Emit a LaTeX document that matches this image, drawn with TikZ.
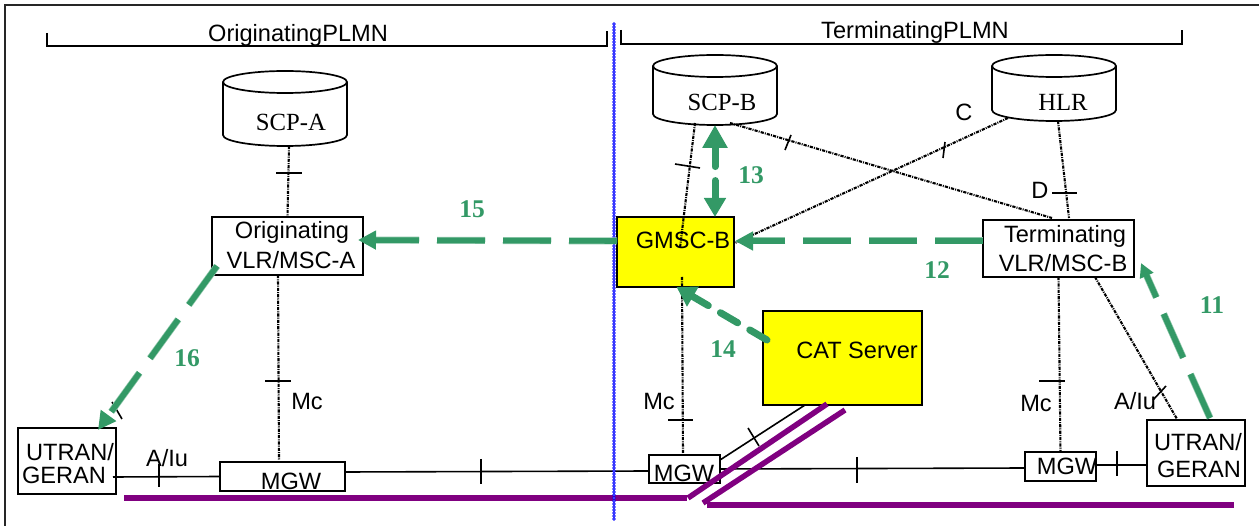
\documentclass[tikz,border=0pt]{standalone}
\usepackage{fontspec}
\setmainfont{Liberation Sans}
\newfontfamily\serifface{Liberation Serif}
\usetikzlibrary{arrows.meta}
\definecolor{flowgreen}{HTML}{339966}
\definecolor{bearer}{HTML}{800080}
\definecolor{hotyellow}{RGB}{255,255,0}
\definecolor{sepblue}{RGB}{0,0,255}
\tikzset{
  netbox/.style={draw=black,line width=1.7pt,fill=white,inner sep=0pt,outer sep=0pt},
  hotbox/.style={netbox,fill=hotyellow},
  anchorbox/.style={inner sep=0pt,outer sep=0pt},
  sans/.style={inner sep=0pt,font=\fontsize{23.6}{26}\selectfont},
  rom/.style={inner sep=0pt,font=\serifface\fontsize{24.7}{27}\selectfont},
  num/.style={inner sep=0pt,text=flowgreen,font=\serifface\bfseries\fontsize{25.5}{27}\selectfont},
  sig/.style={black,line width=2.1pt,dash pattern=on 3.2pt off 1.1pt on 1pt off 1.1pt},
  wire/.style={black,line width=1.6pt},
  tickmark/.style={black,line width=1.6pt},
  flow/.style={flowgreen,line width=5.6pt,dash pattern=on 48pt off 18pt,
    preaction={draw,flowgreen!55,line width=7pt,-,dash pattern=on 48pt off 18pt,shorten >=14pt}},
  flowtip/.style={-{Triangle[length=18pt,width=18pt]}},
  flowsmall/.style={-{Triangle[length=14pt,width=14pt]}},
  flowround/.style={flowgreen,line width=7pt,line cap=round,dash pattern=on 20pt off 14pt},
  bearerline/.style={bearer,line width=5.5pt},
}
\newcommand{\dbcyl}[4]{% name, cx, top, bottom
  \draw[line width=1.7pt,fill=white] ({#2-62},{#3+11}) arc[start angle=180,end angle=0,x radius=62pt,y radius=11pt]
    -- ({#2+62},{#4-11}) arc[start angle=0,end angle=-180,x radius=62pt,y radius=11pt] -- cycle;
  \draw[line width=1.7pt] ({#2-62},{#3+11}) arc[start angle=180,end angle=360,x radius=62pt,y radius=11pt];
  \node[anchorbox,minimum width=124pt,minimum height={(#4-#3)*1pt}] (#1) at (#2,{(#3+#4)/2}) {};
}
\begin{document}
\begin{tikzpicture}[x=1pt,y=-1pt]
\useasboundingbox (0,0) rectangle (1259,526);
% frame
\coordinate (fa) at (5,526); \coordinate (fb) at (5,5); \coordinate (fc) at (1259,5);
\draw[black!85,line width=1.5pt] (fa) -- (fb) -- (fc);
% brackets
\coordinate (la) at (47,33); \coordinate (lb) at (47,46); \coordinate (lc) at (607,46); \coordinate (ld) at (607,31);
\coordinate (ra) at (621,30); \coordinate (rb) at (621,44); \coordinate (rc) at (1182,44); \coordinate (rd) at (1182,30);
\draw[wire,line width=1.7pt] (la) -- (lb) -- (lc) -- (ld);
\draw[wire,line width=1.7pt] (ra) -- (rb) -- (rc) -- (rd);
\node[sans] (olabel) at (298,35) {OriginatingPLMN};
\node[sans] (tlabel) at (915,32) {TerminatingPLMN};
% databases
\dbcyl{scpa}{285}{71}{146}
\dbcyl{scpb}{715}{55}{125}
\dbcyl{hlr}{1054}{55}{121}
% boxes
\node[netbox,minimum width=151pt,minimum height=58pt] (orig) at (287.5,246) {};
\node[hotbox,minimum width=117pt,minimum height=70pt] (gmsc) at (675.5,252) {};
\node[netbox,minimum width=151pt,minimum height=57pt] (term) at (1058.5,248.5) {};
\node[hotbox,minimum width=159pt,minimum height=94pt] (cat) at (842.5,358) {};
\node[netbox,minimum width=98pt,minimum height=66pt] (utl) at (67,461) {};
\node[netbox,minimum width=98pt,minimum height=66pt] (utr) at (1196,453) {};
\node[netbox,minimum width=125pt,minimum height=29pt] (mgl) at (282.5,476.5) {};
\node[netbox,minimum width=71pt,minimum height=28pt] (mgm) at (684.5,469) {};
\node[netbox,minimum width=71pt,minimum height=29pt] (mgr) at (1060.5,466.5) {};
% signalling links
\draw[sig] ([xshift=4pt]scpa.south) -- (orig.north);
\draw[sig] ([xshift=-20pt,yshift=2pt]scpb.south) -- ([xshift=4.5pt,yshift=-31pt]gmsc.north);
\draw[sig] ([xshift=6.5pt,yshift=10pt]gmsc.south) -- ([xshift=-1.5pt]mgm.north);
\draw[sig] ([xshift=15pt,yshift=2pt]scpb.south) -- ([xshift=-6.5pt,yshift=2pt]term.north);
\draw[sig] ([xshift=-46pt,yshift=3pt]hlr.south) -- ([xshift=1pt,yshift=9pt]gmsc.east);
\draw[sig] ([xshift=4pt]hlr.south) -- ([xshift=10.5pt,yshift=2pt]term.north);
\draw[sig] (term.south) -- (mgr.north);
\draw[sig] ([xshift=36.5pt]term.south) -- ([xshift=-19pt,yshift=1pt]utr.north);
\draw[sig] ([xshift=-9.5pt]orig.south) -- ([xshift=-3.5pt,yshift=2pt]mgl.north);
% bearer links
\draw[wire] ([xshift=-3pt,yshift=-16pt]utl.east) -- (mgl.west);
\draw[wire] ([yshift=4.5pt]mgl.east) -- ([yshift=-2pt]mgm.west);
\draw[wire] (mgm.east) -- ([yshift=-1.5pt]mgr.west);
\draw[wire] ([yshift=1.5pt]mgr.east) -- ([yshift=-12pt]utr.west);
\draw[wire] ([yshift=9pt]mgm.east) -- ([xshift=-37.5pt]cat.south);
% tick marks
\foreach \xa/\ya/\xb/\yb in {276/173/302/173, 675/164/700/168, 791/135/785/150, 945/142/943/158,
  1052/193/1077/193, 1039/381/1065/381, 1166/386/1153/400, 265/381/291/381, 668/420/693/420,
  159/464/159/487, 481/459/481/484, 857/457/857/483, 1117/451/1117/476, 748/428/759/446, 112/402/122/419}
  \draw[tickmark] (\xa,\ya) -- (\xb,\yb);
% purple lines
\coordinate (pa) at (124,498); \coordinate (pb) at (687,498); \coordinate (pc) at (688,498); \coordinate (pd) at (827,404);
\coordinate (qa) at (703,503); \coordinate (qb) at (845,410); \coordinate (qc) at (707,505); \coordinate (qd) at (1234,505);
\draw[bearerline] (pa) -- (pb);
\draw[bearerline] (pc) -- (pd);
\draw[bearerline] (qa) -- (qb);
\draw[bearerline] (qc) -- (qd);
% domain separator
\coordinate (sa) at (614,24); \coordinate (sb) at (614,521);
\draw[sepblue,line width=3.8pt,line cap=round,dash pattern=on 0pt off 3pt,
  postaction={draw,white,line width=1.2pt,dash pattern=on 0pt off 3pt}] (sa) -- (sb);
% information flows
\draw[flow,flowtip] ([yshift=11pt]gmsc.west) -- ([xshift=-5pt,yshift=6pt]orig.east);
\draw[flow,flowtip] ([yshift=7.5pt]term.west) -- ([xshift=1pt,yshift=11pt]gmsc.east);
\draw[flow,flowsmall] ([xshift=14pt,yshift=2pt]utr.north) -- ([xshift=7pt,yshift=-14.5pt]term.east);
\draw[flow,flowtip] ([xshift=5pt,yshift=-20pt]orig.west) -- ([xshift=31pt,yshift=-2pt]utl.north);
\draw[flowround,{Triangle[length=23pt,width=24pt]}-{Triangle[length=19pt,width=21pt]}] (scpb.south) -- ([xshift=39.5pt]gmsc.north);
\draw[flowround,-{Triangle[length=19pt,width=22pt]}] ([xshift=4pt,yshift=18pt]cat.west) -- ([xshift=1pt]gmsc.south);
% texts
\node[rom] (tscpa) at (291,122) {SCP-A};
\node[rom] (tscpb) at (722,102) {SCP-B};
\node[rom] (thlr) at (1063,102) {HLR};
\node[sans] (to1) at (292,232) {Originating};
\node[sans] (to2) at (291,260) {VLR/MSC-A};
\node[sans] (tg) at (683,240) {GMSC-B};
\node[sans] (tt1) at (1065,236) {Terminating};
\node[sans] (tt2) at (1063,263) {VLR/MSC-B};
\node[sans] (tc) at (857,350) {CAT Server};
\node[sans] (tu1) at (70,452) {UTRAN/};
\node[sans] (tu2) at (64,475) {GERAN};
\node[sans] (tv1) at (1198,442) {UTRAN/};
\node[sans] (tv2) at (1199,469) {GERAN};
\node[sans] (tm1) at (291,481) {MGW};
\node[sans] (tm2) at (684,473) {MGW};
\node[sans] (tm3) at (1067,466) {MGW};
\node[sans] (mc1) at (307,401) {Mc};
\node[sans] (mc2) at (659,401) {Mc};
\node[sans] (mc3) at (1036,403) {Mc};
\node[sans] (au1) at (167,458) {A/Iu};
\node[sans] (au2) at (1135,401) {A/Iu};
\node[sans] (lc) at (964,112) {C};
\node[sans] (ld) at (1040,190) {D};
\node[num] (n13) at (751,175) {13};
\node[num] (n15) at (472,209) {15};
\node[num] (n12) at (937,270) {12};
\node[num] (n11) at (1212,305) {11};
\node[num] (n14) at (723,349) {14};
\node[num] (n16) at (187,358) {16};
\end{tikzpicture}
\end{document}
